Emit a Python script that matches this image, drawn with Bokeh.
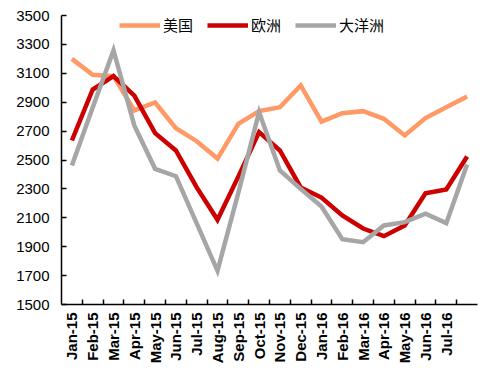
from bokeh.plotting import figure
from bokeh.models import FixedTicker, Legend, LegendItem, Range1d
from bokeh.embed import file_html
from bokeh.resources import INLINE

months = ["Jan-15", "Feb-15", "Mar-15", "Apr-15", "May-15", "Jun-15", "Jul-15",
          "Aug-15", "Sep-15", "Oct-15", "Nov-15", "Dec-15", "Jan-16", "Feb-16",
          "Mar-16", "Apr-16", "May-16", "Jun-16", "Jul-16", "Aug-16"]
shown_labels = months[:19]  # the last label is not printed in the reference

usa = [3200, 3090, 3080, 2843, 2898, 2720, 2630, 2510, 2750, 2838,
       2865, 3016, 2766, 2824, 2838, 2785, 2670, 2790, 2865, 2940]
europe = [2635, 2988, 3080, 2946, 2686, 2566, 2310, 2086, 2385, 2693,
          2566, 2310, 2240, 2116, 2026, 1973, 2047, 2270, 2296, 2524]
oceania = [2462, 2863, 3258, 2739, 2439, 2388, 2062, 1733, 2272, 2831,
           2427, 2300, 2178, 1952, 1931, 2047, 2070, 2128, 2063, 2469]

series_names = ["美国", "欧洲", "大洋洲"]
colors = ["#FF9966", "#CC0000", "#A6A6A6"]
y_ticks = list(range(1500, 3501, 200))

xs = [i + 0.5 for i in range(len(months))]

p = figure(frame_width=416, frame_height=289, output_backend="svg",
           toolbar_location=None, min_border_left=61, min_border_right=16,
           min_border_top=15, min_border_bottom=80,
           x_range=Range1d(0, len(months)), y_range=Range1d(1500, 3500))
p.outline_line_color = None
p.grid.visible = False
p.background_fill_color = "white"

renderers = []
for data, c in zip([usa, europe, oceania], colors):
    r = p.line(xs, data, line_color=c, line_width=4.5, line_join="miter")
    renderers.append(r)

# x axis
xa = p.xaxis[0]
xa.ticker = FixedTicker(ticks=xs[:len(shown_labels)],
                        minor_ticks=list(range(1, len(months))))
xa.major_label_overrides = {x: lab for x, lab in zip(xs, shown_labels)}
xa.major_tick_in = 0
xa.major_tick_out = 0
xa.minor_tick_in = 5
xa.minor_tick_out = 0
xa.minor_tick_line_color = "black"
xa.minor_tick_line_width = 1.5
xa.axis_line_color = "black"
xa.axis_line_width = 1.5
xa.major_label_orientation = 1.5707963
xa.major_label_text_font = "Liberation Sans"
xa.major_label_text_font_style = "bold"
xa.major_label_text_font_size = "15px"
xa.major_label_text_color = "black"
xa.major_label_standoff = 8

# y axis
ya = p.yaxis[0]
ya.ticker = FixedTicker(ticks=y_ticks)
ya.major_tick_in = 5
ya.major_tick_out = 0
ya.minor_tick_in = 0
ya.minor_tick_out = 0
ya.major_tick_line_color = "black"
ya.major_tick_line_width = 1.5
ya.axis_line_color = "black"
ya.axis_line_width = 1.5
ya.major_label_text_font = "Liberation Sans"
ya.major_label_text_font_size = "15px"
ya.major_label_text_color = "black"
ya.major_label_standoff = 12

legend = Legend(items=[LegendItem(label=n, renderers=[r]) for n, r in zip(series_names, renderers)],
                orientation="horizontal", location=(58, 269),
                padding=0, margin=0, spacing=14, label_standoff=3,
                glyph_width=41, glyph_height=18, label_height=18,
                label_text_font="Noto Sans CJK SC", label_text_font_size="15px",
                label_text_color="black",
                background_fill_alpha=0, border_line_color=None)
p.add_layout(legend)

open("out.html", "w").write(file_html(p, INLINE))
